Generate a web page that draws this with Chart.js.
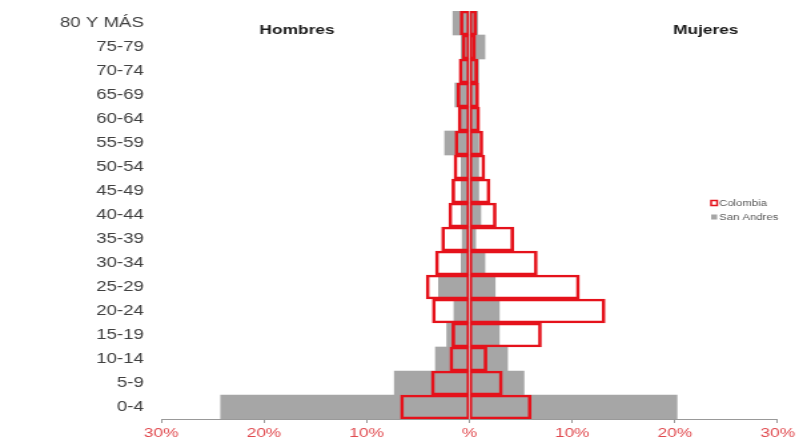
<!DOCTYPE html>
<html>
<head>
<meta charset="utf-8">
<script src="https://cdn.jsdelivr.net/npm/chart.js@4/dist/chart.umd.min.js"></script>
<style>
html,body{margin:0;padding:0;background:#fff;}
#c{display:block;width:799px;height:441px;}
</style>
</head>
<body>
<canvas id="c" width="600" height="441" style="width:799px;height:441px;"></canvas>
<script>
const ageGroups = ['80 Y MÁS','75-79','70-74','65-69','60-64','55-59','50-54','45-49','40-44','35-39','30-34','25-29','20-24','15-19','10-14','5-9','0-4'];
const colombiaMen   = [0.9, 0.7, 1.0, 1.2, 1.1, 1.4, 1.5, 1.7, 2.0, 2.7, 3.3, 4.2, 3.6, 1.7, 1.9, 3.7, 6.7];
const colombiaWomen = [0.7, 0.6, 0.8, 0.9, 1.0, 1.3, 1.5, 2.0, 2.6, 4.3, 6.6, 10.7, 13.2, 7.0, 1.7, 3.2, 6.0];
const sanAndresMen   = [1.6, 0.8, 0.8, 1.4, 0.8, 2.4, 0.8, 0.8, 0.8, 0.7, 0.8, 3.0, 1.5, 2.2, 3.3, 7.3, 24.2];
const sanAndresWomen = [0.8, 1.5, 0.9, 0.8, 0.8, 0.9, 0.9, 0.9, 1.1, 0.6, 1.5, 2.5, 2.9, 2.9, 3.7, 5.3, 20.2];
const xTickValues = [-30, -20, -10, 0, 10, 20, 30];
const xTickLabels = ['30%', '20%', '10%', '%', '10%', '20%', '30%'];
const sideTitles = ['Hombres', 'Mujeres'];
const legendNames = ['Colombia', 'San Andres'];

const RED = '#e5121b';
const GRAY = '#a6a6a6';

const neg = a => a.map(v => -v);

const overlay = {
  id: 'overlay',
  afterDraw(chart) {
    const ctx = chart.ctx;
    ctx.save();
    ctx.fillStyle = '#1a1a1a';
    ctx.font = 'bold 13px "Liberation Sans", Arial, sans-serif';
    ctx.textAlign = 'center';
    ctx.textBaseline = 'middle';
    ctx.fillText(sideTitles[0], 223, 30);
    ctx.fillText(sideTitles[1], 530, 30);
    // legend
    ctx.strokeStyle = RED;
    ctx.lineWidth = 1.5;
    ctx.strokeRect(534, 200.5, 4.5, 5);
    ctx.fillStyle = GRAY;
    ctx.fillRect(534, 214.5, 4.5, 5);
    ctx.fillStyle = '#555';
    ctx.font = '8.5px "Liberation Sans", Arial, sans-serif';
    ctx.textAlign = 'left';
    ctx.fillText(legendNames[0], 540, 203.5);
    ctx.fillText(legendNames[1], 540, 217.5);
    ctx.restore();
  }
};

new Chart(document.getElementById('c'), {
  type: 'bar',
  data: {
    labels: ageGroups,
    datasets: [
      { label: legendNames[0] + ' H', data: neg(colombiaMen), backgroundColor: 'rgba(0,0,0,0)', borderColor: RED,
        borderWidth: { top: 2, bottom: 2, left: 2, right: 1.2 }, borderSkipped: false, order: 0 },
      { label: legendNames[0] + ' M', data: colombiaWomen, backgroundColor: 'rgba(0,0,0,0)', borderColor: RED,
        borderWidth: { top: 2, bottom: 2, left: 1.2, right: 2 }, borderSkipped: false, order: 0 },
      { label: legendNames[1] + ' H', data: neg(sanAndresMen), backgroundColor: GRAY, borderWidth: 0, order: 1 },
      { label: legendNames[1] + ' M', data: sanAndresWomen, backgroundColor: GRAY, borderWidth: 0, order: 1 }
    ]
  },
  options: {
    responsive: false,
    animation: false,
    devicePixelRatio: 1,
    indexAxis: 'y',
    grouped: false,
    barPercentage: 1,
    categoryPercentage: 1,
    layout: { padding: { top: 11, left: 0, right: 13.5, bottom: 0 } },
    plugins: { legend: { display: false }, tooltip: { enabled: false } },
    scales: {
      x: {
        min: -30, max: 30,
        afterBuildTicks: s => { s.ticks = xTickValues.map(v => ({ value: v })); },
        ticks: {
          callback: (v, i) => xTickLabels[i],
          color: '#e04a4f',
          font: { family: '"Liberation Sans", Arial, sans-serif', size: 13 },
          padding: 3,
          maxRotation: 0
        },
        grid: { drawOnChartArea: false, tickLength: 4, color: '#999' },
        border: { color: '#999', width: 1 },
        afterFit: s => { s.height = 22; }
      },
      y: {
        grid: { display: false, drawTicks: false },
        border: { display: false },
        ticks: {
          color: '#404040',
          font: { family: '"Liberation Sans", Arial, sans-serif', size: 14 },
          padding: 13
        },
        afterFit: s => { s.width = 121; s.paddingTop = 0; s.paddingBottom = 0; }
      }
    }
  },
  plugins: [overlay]
});
</script>
</body>
</html>
